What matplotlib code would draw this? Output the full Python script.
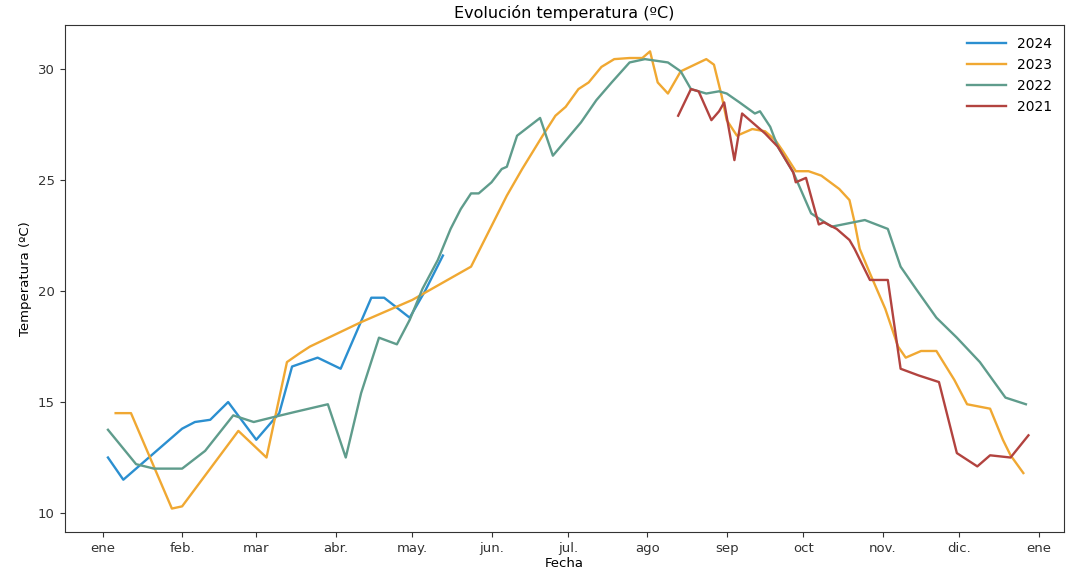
import numpy
import matplotlib
matplotlib.use('Agg')
import matplotlib.pyplot as plt
import matplotlib.dates as mdates
from matplotlib.ticker import FuncFormatter

# day of year (0 = 1 de enero) and mean temperature
days_2024 = [2, 8, 31, 36, 42, 49, 60, 69, 74, 84, 93, 105, 110, 120, 126, 133]
temp_2024 = [12.5, 11.5, 13.8, 14.1, 14.2, 15.0, 13.3, 14.5, 16.6, 17.0, 16.5, 19.7, 19.7, 18.8, 20.0, 21.6]

days_2023 = [5, 11, 27, 31, 53, 64, 72, 77, 81, 101, 121, 144, 158, 164, 172, 177, 181, 186, 190,
             195, 200, 206, 211, 214, 217, 221, 226, 236, 239, 242, 244, 248, 254, 259, 263, 266,
             271, 276, 281, 288, 292, 294, 296, 300, 306, 311, 314, 320, 326, 333, 338, 347, 352,
             355, 360]
temp_2023 = [14.5, 14.5, 10.2, 10.3, 13.7, 12.5, 16.8, 17.2, 17.5, 18.6, 19.6, 21.1, 24.3, 25.5,
             27.0, 27.9, 28.3, 29.1, 29.4, 30.1, 30.45, 30.5, 30.5, 30.8, 29.4, 28.9, 29.9, 30.45,
             30.2, 28.8, 27.7, 27.0, 27.3, 27.2, 26.8, 26.3, 25.4, 25.4, 25.2, 24.6, 24.1, 23.1,
             21.9, 20.8, 19.2, 17.5, 17.0, 17.3, 17.3, 16.0, 14.9, 14.7, 13.3, 12.6, 11.8]

days_2022 = [2, 13, 20, 31, 40, 51, 59, 66, 75, 88, 95, 101, 108, 115, 120, 125, 131, 136, 140,
             144, 147, 152, 156, 158, 162, 171, 176, 187, 193, 199, 206, 212, 221, 226, 230, 236,
             241, 244, 249, 255, 257, 261, 264, 270, 277, 285, 298, 307, 312, 318, 326, 334, 343,
             353, 361]
temp_2022 = [13.75, 12.2, 12.0, 12.0, 12.8, 14.4, 14.1, 14.3, 14.55, 14.9, 12.5, 15.4, 17.9, 17.6,
             18.7, 20.1, 21.4, 22.8, 23.7, 24.4, 24.4, 24.9, 25.5, 25.6, 27.0, 27.8, 26.1, 27.6,
             28.6, 29.4, 30.3, 30.45, 30.3, 29.9, 29.1, 28.9, 29.0, 28.9, 28.5, 28.0, 28.1, 27.4,
             26.5, 25.35, 23.5, 22.9, 23.2, 22.8, 21.1, 20.1, 18.8, 17.9, 16.8, 15.2, 14.9]

days_2021 = [225, 230, 233, 238, 241, 243, 247, 250, 254, 259, 264, 270, 271, 275, 280, 282, 287,
             292, 294, 300, 307, 312, 319, 327, 334, 342, 347, 355, 362]
temp_2021 = [27.9, 29.1, 29.0, 27.7, 28.1, 28.5, 25.9, 28.0, 27.6, 27.1, 26.5, 25.35, 24.9, 25.1,
             23.0, 23.1, 22.8, 22.3, 21.9, 20.5, 20.5, 16.5, 16.2, 15.9, 12.7, 12.1, 12.6, 12.5, 13.5]

month_labels = ['ene', 'feb.', 'mar', 'abr.', 'may.', 'jun.', 'jul.', 'ago', 'sep', 'oct', 'nov.', 'dic.']

series = [
    ('2024', days_2024, temp_2024, '#2b8fd0'),
    ('2023', days_2023, temp_2023, '#f0a832'),
    ('2022', days_2022, temp_2022, '#5f9c8c'),
    ('2021', days_2021, temp_2021, '#b2433f'),
]

base = numpy.datetime64('2024-01-01')


def to_dates(days):
    return base + numpy.array(days, dtype='timedelta64[D]')


fig = plt.figure(figsize=(10.75, 5.75), dpi=100)
ax = fig.add_axes([0.06, 0.075, 0.93, 0.882])

for name, days, temps, color in series:
    ax.plot(to_dates(days), temps, color=color, linewidth=1.7, label=name)

ax.set_xlim(base - numpy.timedelta64(15, 'D'), base + numpy.timedelta64(376, 'D'))
ax.set_ylim(9.15, 32.0)
ax.set_yticks([10, 15, 20, 25, 30])

ax.xaxis.set_major_locator(mdates.MonthLocator())
ax.xaxis.set_major_formatter(FuncFormatter(lambda v, pos: month_labels[mdates.num2date(v).month - 1]))

ax.tick_params(labelsize=9.5, colors='#333333')
for spine in ax.spines.values():
    spine.set_color('#333333')

ax.set_title('Evolución temperatura (ºC)', fontsize=11.5, pad=5)
ax.set_xlabel('Fecha', fontsize=9.5, labelpad=2)
ax.set_ylabel('Temperatura (ºC)', fontsize=9.5)
ax.legend(loc='upper right', frameon=False, fontsize=10, handlelength=2.8)

fig.savefig('out.png', dpi=100)
